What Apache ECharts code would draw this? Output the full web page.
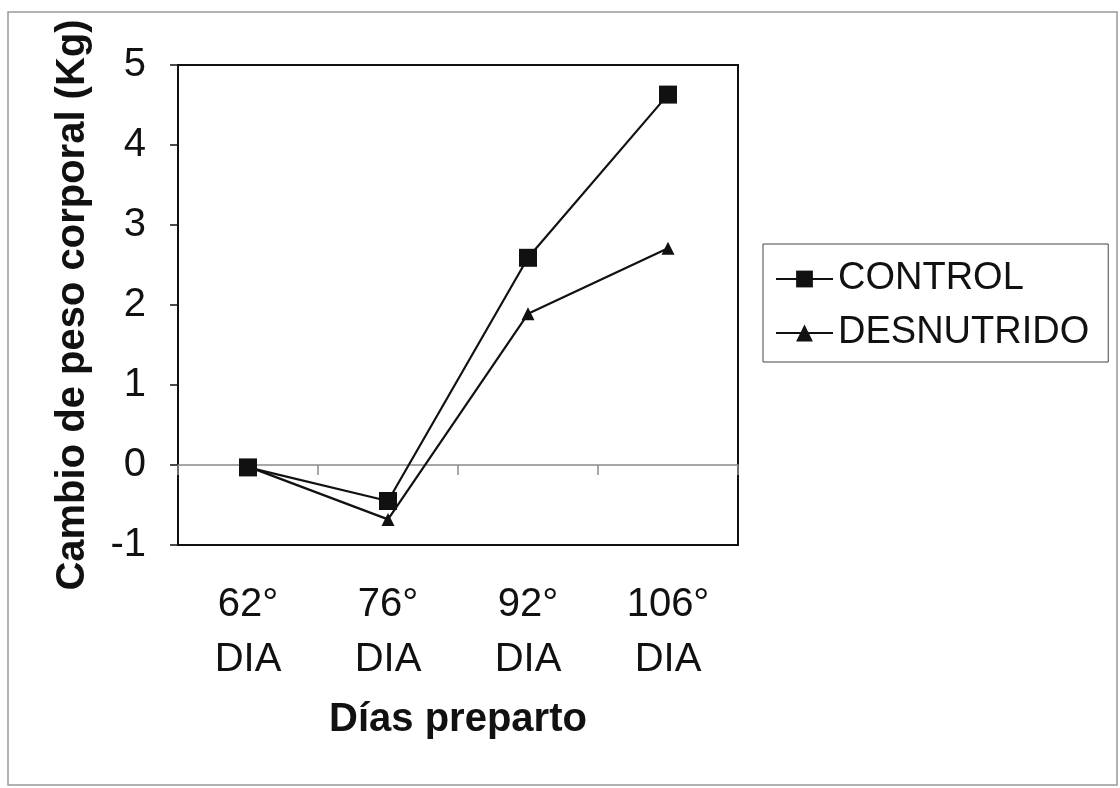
<!DOCTYPE html>
<html>
<head>
<meta charset="utf-8">
<script src="https://cdn.jsdelivr.net/npm/echarts@6/dist/echarts.min.js"></script>
<style>
  html, body { margin: 0; padding: 0; background: #fff; }
  #chart { width: 1120px; height: 788px; }
</style>
</head>
<body>
<div id="chart"></div>
<script>
// Body weight change by prepartum day
const categories = ['62°\nDIA', '76°\nDIA', '92°\nDIA', '106°\nDIA'];
const seriesNames = ['CONTROL', 'DESNUTRIDO'];
const control = [-0.03, -0.45, 2.59, 4.63];
const desnutrido = [-0.02, -0.68, 1.89, 2.71];
const yMin = -1;
const yMax = 5;
const yInterval = 1;

const FONT = '"Liberation Sans", Arial, sans-serif';
const INK = '#111';

const chart = echarts.init(document.getElementById('chart'), null, { renderer: 'canvas' });

chart.setOption({
  animation: false,
  backgroundColor: '#fff',
  textStyle: { fontFamily: FONT, color: INK },
  graphic: [{
    type: 'rect',
    shape: { x: 8, y: 12, width: 1109, height: 773 },
    style: { fill: 'none', stroke: '#999', lineWidth: 1.5 },
    silent: true
  }],
  grid: {
    left: 178, top: 65, width: 560, height: 480,
    show: true, borderColor: INK, borderWidth: 2, backgroundColor: 'transparent'
  },
  legend: {
    orient: 'vertical',
    left: 763, top: 244,
    itemWidth: 57, itemHeight: 21, itemGap: 14,
    padding: [15, 19, 9, 12],
    borderColor: '#444', borderWidth: 1,
    textStyle: { fontFamily: FONT, fontSize: 38, lineHeight: 40, color: INK },
    data: seriesNames
  },
  xAxis: [
    {
      type: 'category',
      data: categories,
      position: 'bottom',
      boundaryGap: true,
      axisLine: { onZero: false, lineStyle: { color: INK, width: 2 } },
      axisTick: { show: false },
      axisLabel: { interval: 0, fontFamily: FONT, fontSize: 40, lineHeight: 55, color: INK, margin: 32 },
      name: 'Días preparto',
      nameLocation: 'middle',
      nameGap: 155,
      nameTextStyle: { fontFamily: FONT, fontSize: 40, fontWeight: 'bold', color: INK }
    },
    {
      // baseline at zero with category separators
      type: 'category',
      data: categories,
      position: 'top',
      boundaryGap: true,
      axisLine: { onZero: true, lineStyle: { color: '#8a8a8a', width: 1.5 } },
      axisTick: { show: true, inside: true, length: 10, lineStyle: { color: '#8a8a8a', width: 1.5 } },
      axisLabel: { show: false }
    }
  ],
  yAxis: {
    type: 'value',
    min: yMin, max: yMax, interval: yInterval,
    axisLine: { show: true, onZero: false, lineStyle: { color: INK, width: 2 } },
    axisTick: { show: true, length: 8, lineStyle: { color: INK, width: 1.5 } },
    splitLine: { show: false },
    axisLabel: { fontFamily: FONT, fontSize: 40, color: INK, margin: 32 },
    name: 'Cambio de peso corporal (Kg)',
    nameLocation: 'middle',
    nameGap: 85,
    nameTextStyle: { fontFamily: FONT, fontSize: 40, fontWeight: 'bold', color: INK }
  },
  series: [
    {
      name: seriesNames[0],
      type: 'line',
      xAxisIndex: 0,
      data: control,
      symbol: 'rect',
      symbolSize: 18,
      itemStyle: { color: INK },
      lineStyle: { color: INK, width: 2.2 },
      z: 3
    },
    {
      name: seriesNames[1],
      type: 'line',
      xAxisIndex: 0,
      data: desnutrido,
      symbol: 'triangle',
      symbolSize: 13,
      itemStyle: { color: INK },
      lineStyle: { color: INK, width: 2.2 },
      z: 2
    }
  ]
});
</script>
</body>
</html>
